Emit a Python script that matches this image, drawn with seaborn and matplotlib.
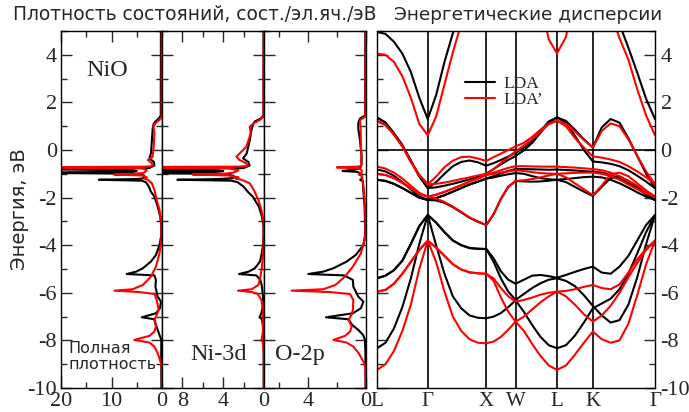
import numpy as np
import pandas as pd
import matplotlib
matplotlib.use("Agg")
import matplotlib.pyplot as plt
from matplotlib.ticker import MultipleLocator, FixedLocator
from matplotlib.lines import Line2D
import seaborn as sns

sns.set_style("ticks")
plt.rcParams.update({
    "font.family": ["DejaVu Sans"],
    "axes.unicode_minus": False,
    "axes.linewidth": 1.0,
    "axes.edgecolor": "black",
})
SERIF = "Liberation Serif"

# ---------------- density of states (states / cell / eV) ----------------
E_lda = [5.0, 1.45, 1.33, 1.20, 1.10, 0.90, 0.40, -0.15, -0.35, -0.50, -0.65, -0.76,
         -0.80, -0.85, -0.88, -0.92, -0.95, -1.00, -1.08, -1.18, -1.22, -1.25, -1.29,
         -1.35, -1.54, -1.75, -1.96, -2.38, -2.80, -3.20, -3.60, -4.00, -4.41, -4.69,
         -4.97, -5.11, -5.21, -5.27, -5.46, -5.74, -6.16, -6.37, -6.65, -6.86, -7.03,
         -7.11, -7.35, -7.56, -7.77, -7.98, -8.50, -10.0]
tot_lda = [0.22, 0.25, 0.6, 1.3, 1.65, 1.85, 2.0, 2.2, 2.5, 1.6, 1.5, 2.5,
           30, 6, 5, 6, 30, 4.5, 3.5, 3.5, 5, 12.5, 4.0,
           3.2, 2.6, 2.2, 1.5, 0.85, 0.35, 0.15, 0.15, 0.5, 1.2, 2.2,
           3.8, 5.1, 7.0, 1.5, 1.2, 1.3, 0.86, 0.2, 0.4, 1.2, 4.0,
           1.5, 1.2, 0.86, 0.5, 0.13, 0.15, 0.12]
ni3d_lda = [0.05, 0.05, 0.3, 0.9, 1.05, 1.2, 1.4, 1.7, 2.05, 1.55, 1.4, 2.0,
            25, 5, 4, 5, 25, 4.0, 3.0, 3.0, 4.5, 8.5, 3.2,
            2.6, 2.0, 1.6, 1.1, 0.5, 0.2, 0.05, 0.05, 0.1, 0.25, 0.4,
            0.9, 1.5, 2.45, 0.75, 0.35, 0.2, 0.1, 0.08, 0.15, 0.26, 0.42,
            0.2, 0.12, 0.08, 0.05, 0.05, 0.03, 0.03]
o2p_lda = [0.05, 0.06, 0.4, 0.5, 0.53, 0.53, 0.41, 0.32, 0.3, 0.3, 0.32, 0.4,
           0.6, 1.2, 1.6, 0.6, 0.5, 0.35, 0.3, 0.28, 0.3, 0.4, 0.25,
           0.22, 0.2, 0.18, 0.15, 0.1, 0.08, 0.05, 0.07, 0.18, 0.7, 1.33,
           2.24, 2.93, 3.96, 1.5, 0.9, 0.87, 0.53, 0.18, 0.35, 0.9, 2.75,
           1.21, 0.95, 0.53, 0.2, 0.07, 0.04, 0.03]

E_ldap = [5.0, 1.40, 1.26, 1.15, 0.98, 0.70, 0.14, -0.28, -0.42, -0.56, -0.67, -0.70,
          -0.73, -0.77, -0.85, -0.95, -1.00, -1.03, -1.07, -1.15, -1.20, -1.25, -1.40,
          -1.68, -2.10, -2.52, -3.00, -3.50, -3.78, -4.34, -4.90, -5.32, -5.67, -5.85,
          -5.91, -5.97, -6.05, -6.30, -6.72, -6.93, -7.14, -7.42, -7.63, -7.81, -7.98,
          -8.09, -8.26, -8.54, -8.96, -9.24, -10.0]
tot_ldap = [0.05, 0.08, 0.5, 1.2, 1.7, 1.5, 1.65, 1.85, 2.8, 2.0, 1.85, 3.0,
            30, 4.0, 3.0, 3.5, 5.0, 9.5, 4.0, 3.0, 3.5, 2.8, 2.0,
            1.5, 1.05, 0.5, 0.15, 0.1, 0.13, 0.5, 1.2, 2.2, 3.8, 5.8,
            9.4, 4.5, 1.5, 1.05, 0.66, 1.05, 1.5, 1.2, 1.5, 2.5, 5.5,
            2.5, 1.5, 0.86, 0.2, 0.02, 0.02]
ni3d_ldap = [0.02, 0.05, 0.42, 0.9, 1.4, 1.3, 1.73, 2.7, 2.4, 1.73, 1.6, 2.5,
             25, 3.5, 2.5, 3.0, 4.0, 7.0, 3.5, 2.5, 2.8, 2.2, 1.4,
             1.0, 0.55, 0.25, 0.05, 0.02, 0.03, 0.1, 0.2, 0.35, 0.55, 1.2,
             2.55, 1.2, 0.6, 0.26, 0.1, 0.08, 0.1, 0.1, 0.12, 0.16, 0.26,
             0.12, 0.06, 0.03, 0.02, 0.02, 0.02]
o2p_ldap = [0.02, 0.05, 0.41, 0.4, 0.38, 0.36, 0.35, 0.3, 0.35, 0.3, 0.35, 0.6,
            2.0, 0.5, 0.3, 0.3, 0.35, 0.5, 0.3, 0.25, 0.3, 0.22, 0.2,
            0.15, 0.1, 0.06, 0.04, 0.04, 0.1, 0.35, 0.9, 1.45, 2.1, 2.93,
            5.1, 2.47, 1.1, 0.87, 0.9, 1.0, 1.2, 0.98, 1.1, 1.44, 2.24,
            1.33, 0.87, 0.5, 0.12, 0.03, 0.02]

# ---------------- band structure along L-Γ-X-W-L-K-Γ ----------------
kpt_labels = ["L", "Γ", "X", "W", "L", "K", "Γ"]
seg_lengths = [0.866, 1.0, 0.5, 0.707, 0.612, 1.061]   # 2π/a
seg_steps = [6, 7, 4, 5, 4, 7]

lda_cond = [4.96, 4.88, 4.55, 4.05, 3.28, 2.2, 1.3,
            2.3, 3.7, 4.9, 6.0, 7.0, 7.6, 7.9,
            8.0, 8.0, 7.9, 7.8,
            8.0, 7.9, 7.3, 5.6, 4.98,
            5.7, 7.8, 8.5, 8.6,
            8.0, 6.5, 5.3, 4.3, 3.25, 2.15, 1.3]
lda_d1 = [1.37, 1.15, 0.70, 0.20, -0.45, -1.10, -1.60,
          -1.35, -1.00, -0.68, -0.50, -0.44, -0.52, -0.66,
          -0.55, -0.42, -0.27, -0.12,
          0.10, 0.38, 0.80, 1.20, 1.37,
          1.22, 0.85, 0.45, 0.10,
          0.95, 1.30, 1.15, 0.50, -0.25, -1.00, -1.60]
lda_d2 = [1.37, 1.15, 0.70, 0.20, -0.45, -1.10, -1.60,
          -1.57, -1.50, -1.42, -1.33, -1.23, -1.12, -1.00,
          -0.80, -0.60, -0.42, -0.25,
          -0.02, 0.30, 0.72, 1.15, 1.37,
          1.15, 0.60, 0.00, -0.48,
          -0.52, -0.58, -0.68, -0.85, -1.08, -1.33, -1.60]
lda_d3 = [-0.82, -0.90, -1.08, -1.35, -1.65, -1.95, -2.10,
          -2.02, -1.90, -1.75, -1.60, -1.45, -1.33, -1.20,
          -1.10, -0.98, -0.88, -0.80,
          -0.80, -0.81, -0.82, -0.83, -0.82,
          -0.84, -0.86, -0.89, -0.91,
          -0.95, -1.05, -1.20, -1.40, -1.62, -1.86, -2.10]
lda_d4 = [-1.25, -1.30, -1.42, -1.60, -1.80, -2.00, -2.10,
          -2.02, -1.90, -1.75, -1.60, -1.45, -1.33, -1.20,
          -1.15, -1.08, -1.02, -0.97,
          -1.00, -1.10, -1.18, -1.23, -1.25,
          -1.22, -1.18, -1.14, -1.12,
          -1.15, -1.25, -1.40, -1.58, -1.78, -1.96, -2.10]
lda_d5 = [-1.25, -1.30, -1.42, -1.60, -1.80, -2.00, -2.10,
          -2.12, -2.22, -2.40, -2.62, -2.85, -3.02, -3.15,
          -2.70, -2.05, -1.55, -1.30,
          -1.32, -1.33, -1.32, -1.29, -1.25,
          -1.35, -1.55, -1.75, -1.93,
          -1.55, -1.18, -1.12, -1.30, -1.55, -1.85, -2.10]
lda_p1 = [-5.39, -5.28, -5.05, -4.65, -3.95, -3.20, -2.73,
          -3.05, -3.45, -3.80, -4.00, -4.12, -4.15, -4.16,
          -4.55, -5.10, -5.45, -5.62,
          -5.45, -5.28, -5.25, -5.30, -5.37,
          -5.25, -5.12, -5.00, -4.90,
          -5.15, -5.20, -4.90, -4.45, -3.80, -3.15, -2.73]
lda_p2 = [-5.39, -5.28, -5.05, -4.65, -3.95, -3.20, -2.73,
          -3.05, -3.45, -3.80, -4.00, -4.12, -4.15, -4.16,
          -4.70, -5.40, -5.95, -6.30,
          -6.05, -5.80, -5.60, -5.45, -5.39,
          -5.50, -5.72, -6.10, -6.55,
          -6.95, -7.25, -7.15, -6.50, -5.35, -3.95, -2.73]
lda_p3 = [-8.33, -8.10, -7.50, -6.60, -5.40, -3.95, -2.73,
          -4.00, -5.20, -6.15, -6.65, -6.95, -7.05, -7.07,
          -7.00, -6.85, -6.60, -6.32,
          -6.80, -7.35, -7.85, -8.20, -8.33,
          -8.20, -7.80, -7.25, -6.65,
          -6.45, -6.25, -5.85, -5.20, -4.35, -3.45, -2.73]

ldap_cond = [4.05, 4.0, 3.7, 3.1, 2.2, 1.1, 0.62,
             1.4, 2.75, 4.1, 5.3, 6.4, 7.0, 7.3,
             7.5, 7.5, 7.4, 7.2,
             7.6, 7.8, 6.3, 4.65, 4.06,
             4.75, 6.8, 7.9, 8.0,
             7.0, 5.8, 4.7, 3.8, 2.55, 1.45, 0.62]
ldap_d1 = [1.22, 1.05, 0.65, 0.15, -0.50, -1.05, -1.44,
           -1.12, -0.72, -0.45, -0.30, -0.28, -0.36, -0.46,
           -0.30, -0.15, 0.00, 0.15,
           0.30, 0.55, 0.85, 1.12, 1.23,
           1.10, 0.78, 0.42, 0.10,
           0.80, 1.12, 1.00, 0.45, -0.25, -0.90, -1.44]
ldap_d2 = [1.22, 1.05, 0.65, 0.15, -0.50, -1.05, -1.44,
           -1.42, -1.37, -1.30, -1.22, -1.15, -1.07, -1.00,
           -0.80, -0.55, -0.30, -0.05,
           0.18, 0.45, 0.78, 1.08, 1.23,
           1.00, 0.50, 0.10, -0.27,
           -0.32, -0.40, -0.50, -0.68, -0.90, -1.15, -1.44]
ldap_d3 = [-0.70, -0.78, -0.95, -1.20, -1.50, -1.80, -1.96,
           -1.88, -1.76, -1.62, -1.48, -1.33, -1.20, -1.05,
           -0.95, -0.85, -0.75, -0.68,
           -0.68, -0.69, -0.70, -0.70, -0.70,
           -0.72, -0.74, -0.77, -0.80,
           -0.85, -0.95, -1.10, -1.30, -1.50, -1.73, -1.96]
ldap_d4 = [-1.00, -1.05, -1.18, -1.38, -1.60, -1.85, -1.96,
           -1.88, -1.76, -1.62, -1.48, -1.33, -1.20, -1.05,
           -1.00, -0.95, -0.90, -0.85,
           -0.88, -0.93, -0.97, -0.99, -1.00,
           -0.98, -0.96, -0.95, -0.95,
           -1.00, -1.10, -1.25, -1.45, -1.65, -1.83, -1.96]
ldap_d5 = [-1.00, -1.05, -1.18, -1.38, -1.60, -1.85, -1.96,
           -2.05, -2.18, -2.38, -2.60, -2.83, -3.00, -3.15,
           -2.70, -2.05, -1.55, -1.30,
           -1.27, -1.22, -1.15, -1.07, -1.00,
           -1.15, -1.40, -1.65, -1.90,
           -1.50, -1.02, -0.95, -1.10, -1.40, -1.70, -1.96]
ldap_p1 = [-5.95, -5.88, -5.62, -5.20, -4.70, -4.20, -3.81,
           -4.10, -4.45, -4.80, -5.02, -5.14, -5.18, -5.20,
           -5.40, -5.80, -6.15, -6.37,
           -6.30, -6.20, -6.08, -6.00, -5.95,
           -5.92, -5.85, -5.75, -5.67,
           -5.80, -5.85, -5.65, -5.15, -4.60, -4.15, -3.81]
ldap_p2 = [-5.95, -5.88, -5.62, -5.20, -4.70, -4.20, -3.81,
           -4.10, -4.45, -4.80, -5.02, -5.14, -5.18, -5.20,
           -5.50, -6.20, -6.80, -7.21,
           -7.00, -6.70, -6.40, -6.15, -5.95,
           -6.15, -6.50, -6.90, -7.21,
           -6.95, -6.55, -6.00, -5.35, -4.75, -4.20, -3.81]
ldap_p3 = [-9.24, -9.00, -8.45, -7.60, -6.50, -5.00, -3.81,
           -4.70, -5.95, -7.00, -7.60, -7.95, -8.10, -8.12,
           -8.05, -7.85, -7.55, -7.21,
           -7.60, -8.15, -8.65, -9.05, -9.24,
           -9.05, -8.60, -8.10, -7.63,
           -7.95, -8.10, -8.00, -7.30, -6.10, -4.80, -3.81]

lda_bands = [lda_cond, lda_d1, lda_d2, lda_d3, lda_d4, lda_d5, lda_p1, lda_p2, lda_p3]
ldap_bands = [ldap_cond, ldap_d1, ldap_d2, ldap_d3, ldap_d4, ldap_d5, ldap_p1, ldap_p2, ldap_p3]

# cumulative k distance along the path
kpt_pos = np.concatenate([[0.0], np.cumsum(seg_lengths)])
kpath = [0.0]
for a, b, n in zip(kpt_pos[:-1], kpt_pos[1:], seg_steps):
    kpath.extend(np.linspace(a, b, n + 1)[1:])
kpath = np.array(kpath)


def band_frame(bands, name):
    rows = []
    for i, en in enumerate(bands):
        assert len(en) == len(kpath)
        rows.append(pd.DataFrame({"k": kpath, "E": en, "band": i, "calc": name}))
    return pd.concat(rows, ignore_index=True)


bands_df = pd.concat([band_frame(lda_bands, "LDA"), band_frame(ldap_bands, "LDA'")],
                     ignore_index=True)

# ---------------- layout ----------------
W, H = 689, 412
fig = plt.figure(figsize=(W / 100, H / 100), dpi=100)


def px_axes(x0, x1, y0=31, y1=388):
    return fig.add_axes([x0 / W, 1 - y1 / H, (x1 - x0) / W, (y1 - y0) / H])


ax_tot = px_axes(61, 162)
ax_ni = px_axes(162, 264)
ax_o = px_axes(264, 366)
ax_bs = px_axes(377, 655)

BLACK, RED = "#000000", "#ff0000"
LW = 1.5
TICKFS = 16

dos_panels = [
    (ax_tot, tot_lda, tot_ldap, 20, 10, 5),
    (ax_ni, ni3d_lda, ni3d_ldap, 10, 4, 2),
    (ax_o, o2p_lda, o2p_ldap, 7, 4, 2),
]
for ax, blk, red, xmax, major, minor in dos_panels:
    sns.lineplot(x=blk, y=E_lda, ax=ax, color=BLACK, lw=LW, sort=False,
                 estimator=None, legend=False)
    sns.lineplot(x=red, y=E_ldap, ax=ax, color=RED, lw=LW, sort=False,
                 estimator=None, legend=False)
    ax.set_xlim(xmax, 0)
    ax.set_ylim(-10, 5)
    ax.xaxis.set_major_locator(FixedLocator([v for v in range(0, xmax + 1, major)]))
    ax.xaxis.set_minor_locator(FixedLocator([v for v in range(0, xmax + 1, minor)]))
    ax.yaxis.set_major_locator(MultipleLocator(2))
    ax.yaxis.set_minor_locator(MultipleLocator(1))
    ax.set_xlabel("")
    ax.set_ylabel("")
    ax.tick_params(which="both", direction="in", top=True, right=True,
                   labelsize=TICKFS, width=1.0)
    ax.tick_params(which="major", length=8)
    ax.tick_params(which="minor", length=4.5)
    ax.tick_params(axis="x", which="major", pad=3)
    ax.tick_params(axis="y", which="major", pad=3)
    for lab in ax.get_xticklabels() + ax.get_yticklabels():
        lab.set_fontfamily(SERIF)
    if ax is not ax_tot:
        ax.tick_params(labelleft=False)

ax_tot.text(10.8, 3.36, "NiO", ha="center", va="center", fontsize=17.5, family=SERIF)
ax_tot.text(18.6, -8.68, "Полная\nплотность", ha="left", va="center", fontsize=11.5,
            linespacing=1.15)
ax_ni.text(4.5, -8.61, "Ni-3d", ha="center", va="center", fontsize=17.5, family=SERIF)
ax_o.text(4.53, -8.61, "O-2p", ha="center", va="center", fontsize=17.5, family=SERIF)

# band structure
for (calc, band), grp in bands_df.groupby(["calc", "band"], sort=False):
    sns.lineplot(data=grp, x="k", y="E", ax=ax_bs, color=BLACK if calc == "LDA" else RED,
                 lw=LW, sort=False, estimator=None, legend=False)
for kp in kpt_pos[1:-1]:
    ax_bs.axvline(kp, color=BLACK, lw=1.2, zorder=1)
ax_bs.axhline(0, color=BLACK, lw=1.2, zorder=1)
ax_bs.set_xlim(kpt_pos[0], kpt_pos[-1])
ax_bs.set_ylim(-10, 5)
ax_bs.set_xticks(kpt_pos)
ax_bs.set_xticklabels(kpt_labels)
ax_bs.set_xlabel("")
ax_bs.set_ylabel("")
ax_bs.yaxis.set_major_locator(MultipleLocator(2))
ax_bs.yaxis.set_minor_locator(MultipleLocator(1))
ax_bs.tick_params(axis="x", length=0, pad=3, labelsize=15)
ax_bs.tick_params(axis="y", which="both", direction="in", left=True, right=True,
                  labelleft=False, labelright=True, labelsize=TICKFS, width=1.0)
ax_bs.tick_params(axis="y", which="major", length=8, pad=4)
ax_bs.tick_params(axis="y", which="minor", length=4.5)
for lab in ax_bs.get_xticklabels() + ax_bs.get_yticklabels():
    lab.set_fontfamily(SERIF)

handles = [Line2D([], [], color=BLACK, lw=LW), Line2D([], [], color=RED, lw=LW)]
ax_bs.legend(handles, ["LDA", "LDA’"], loc="upper left", bbox_to_anchor=(0.29, 0.895),
             frameon=False, prop={"family": SERIF, "size": 12.5}, handlelength=1.75,
             handletextpad=0.5, labelspacing=0.0, borderaxespad=0)

fig.text(13 / W, 1 - 15 / H, "Плотность состояний, сост./эл.яч./эВ", ha="left",
         va="center", fontsize=13.4)
fig.text(528 / W, 1 - 15 / H, "Энергетические дисперсии", ha="center", va="center",
         fontsize=13.3)
fig.text(20 / W, 1 - 209 / H, "Энергия, эВ", rotation=90, ha="center", va="center",
         fontsize=14)

fig.savefig("out.png", dpi=100)
